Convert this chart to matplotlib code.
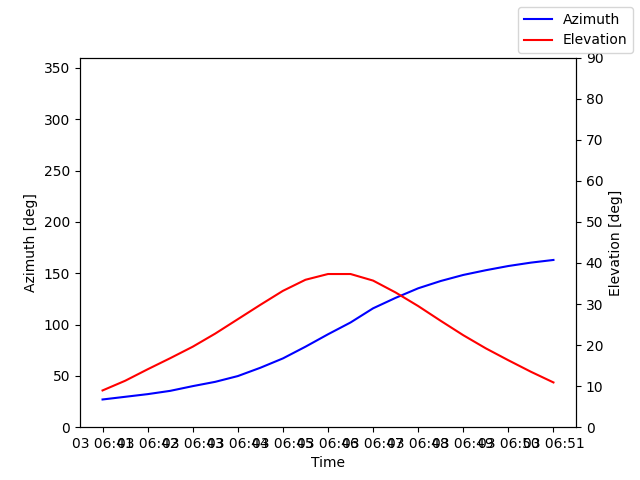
import numpy as np
import pandas as pd
import matplotlib
matplotlib.use("Agg")
import matplotlib.pyplot as plt
import matplotlib.dates as mdates

# pass sampled every 30 s
times = pd.date_range("2023-03-03 06:41:00", "2023-03-03 06:51:00", freq="30s")

azimuth = [27.0, 29.6, 32.2, 35.4, 40.0, 44.2, 49.8, 57.9, 67.0, 78.4, 90.5,
           102.0, 115.8, 126.0, 135.3, 142.4, 148.3, 152.9, 157.0, 160.3, 162.9]
elevation = [8.95, 11.3, 14.1, 16.8, 19.6, 22.8, 26.3, 29.8, 33.2, 35.9, 37.3,
             37.3, 35.7, 32.8, 29.5, 25.9, 22.4, 19.2, 16.3, 13.5, 10.9]

fig, ax = plt.subplots(figsize=(6.4, 4.8), dpi=100)
ax.plot(times, azimuth, color="b", label="Azimuth")
ax.set_ylim(0, 360)
ax.set_xlabel("Time")
ax.set_ylabel("Azimuth [deg]")
ax.xaxis.set_major_locator(mdates.MinuteLocator())
ax.xaxis.set_major_formatter(mdates.DateFormatter("%d %H:%M"))

ax2 = ax.twinx()
ax2.plot(times, elevation, color="r", label="Elevation")
ax2.set_ylim(0, 90)
ax2.set_ylabel("Elevation [deg]")

fig.legend(loc="upper right")
fig.savefig("out.png")
